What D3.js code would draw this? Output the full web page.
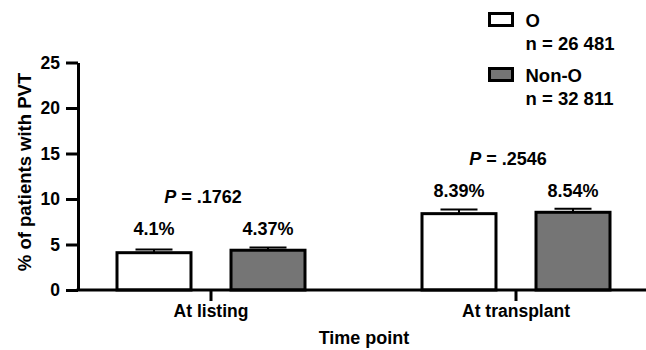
<!DOCTYPE html>
<html>
<head>
<meta charset="utf-8">
<script src="https://cdn.jsdelivr.net/npm/d3@7"></script>
<style>
  body { margin: 0; background: #fff; }
  text { font-family: "Liberation Sans", Arial, sans-serif; font-weight: bold; fill: #000; }
</style>
</head>
<body>
<div id="chart"></div>
<script>
// data
const timePoints = ['At listing', 'At transplant'];
const groups = ['O', 'Non-O'];
const groupN = ['n = 26 481', 'n = 32 811'];
const valuesO = [4.1, 8.39];
const valuesNonO = [4.37, 8.54];
const errorsO = [0.35, 0.45];
const errorsNonO = [0.3, 0.4];
const pValues = ['.1762', '.2546'];
const yTicks = [0, 5, 10, 15, 20, 25];

const colors = { 'O': '#ffffff', 'Non-O': '#757575' };

const width = 646, height = 350;

const svg = d3.select('#chart').append('svg')
    .attr('width', width)
    .attr('height', height);

// scales
const y = d3.scaleLinear().domain([0, 25]).range([290, 62.5]);

const x = d3.scaleBand()
    .domain(timePoints)
    .range([58.5, 668.5])
    .padding(0);

const xSub = d3.scaleBand()
    .domain(groups)
    .range([-94, 94])
    .paddingInner(0.351);

const axisX0 = 78;

const rows = [];
timePoints.forEach((t, i) => {
    rows.push({ time: t, group: 'O', value: valuesO[i], err: errorsO[i] });
    rows.push({ time: t, group: 'Non-O', value: valuesNonO[i], err: errorsNonO[i] });
});

const cx = d => x(d.time) + x.bandwidth() / 2;

// bars
svg.selectAll('.bar')
    .data(rows)
    .enter()
    .append('rect')
    .attr('class', 'bar')
    .attr('x', d => cx(d) + xSub(d.group))
    .attr('y', d => y(d.value))
    .attr('width', xSub.bandwidth())
    .attr('height', d => y(0) - y(d.value))
    .attr('fill', d => colors[d.group])
    .attr('stroke', '#000')
    .attr('stroke-width', 3);

// error bars
const errG = svg.selectAll('.err')
    .data(rows)
    .enter()
    .append('g')
    .attr('class', 'err')
    .attr('stroke', '#000')
    .attr('stroke-width', 2);

errG.append('line')
    .attr('x1', d => cx(d) + xSub(d.group) + xSub.bandwidth() / 2)
    .attr('x2', d => cx(d) + xSub(d.group) + xSub.bandwidth() / 2)
    .attr('y1', d => y(d.value))
    .attr('y2', d => y(d.value + d.err));

errG.append('line')
    .attr('x1', d => cx(d) + xSub(d.group) + xSub.bandwidth() / 4)
    .attr('x2', d => cx(d) + xSub(d.group) + xSub.bandwidth() * 3 / 4)
    .attr('y1', d => y(d.value + d.err))
    .attr('y2', d => y(d.value + d.err));

// value labels
svg.selectAll('.val')
    .data(rows)
    .enter()
    .append('text')
    .attr('class', 'val')
    .attr('x', d => cx(d) + xSub(d.group) + xSub.bandwidth() / 2)
    .attr('y', d => y(Math.max(valuesO[timePoints.indexOf(d.time)], valuesNonO[timePoints.indexOf(d.time)])) - 15)
    .attr('text-anchor', 'middle')
    .style('font-size', '18px')
    .text(d => d.value + '%');

// p values
const pText = svg.selectAll('.pval')
    .data(timePoints)
    .enter()
    .append('text')
    .attr('class', 'pval')
    .attr('x', d => x(d) + x.bandwidth() / 2 - 8)
    .attr('y', (d, i) => y(Math.max(valuesO[i], valuesNonO[i])) - 47)
    .attr('text-anchor', 'middle')
    .style('font-size', '18px');
pText.append('tspan').style('font-style', 'italic').text('P');
pText.append('tspan').text((d, i) => ' = ' + pValues[i]);

// y axis
const yAxis = svg.append('g')
    .attr('transform', `translate(${axisX0},0)`)
    .call(d3.axisLeft(y).tickValues(yTicks).tickSize(12).tickPadding(6).tickSizeOuter(0));
yAxis.select('.domain').attr('stroke-width', 3);
yAxis.selectAll('.tick line').attr('stroke-width', 3);
yAxis.selectAll('.tick text').style('font-size', '17.5px').attr('font-family', null).attr('fill', '#000');

// x axis
const xAxis = svg.append('g')
    .attr('transform', `translate(0,${y(0)})`)
    .call(d3.axisBottom(x).tickSize(11).tickPadding(4).tickSizeOuter(0));
xAxis.select('.domain').remove();
xAxis.append('line')
    .attr('x1', axisX0 - 1.5)
    .attr('x2', width)
    .attr('stroke', '#000')
    .attr('stroke-width', 3);
xAxis.selectAll('.tick line').attr('stroke-width', 3);
xAxis.selectAll('.tick text').style('font-size', '17.5px').attr('font-family', null).attr('fill', '#000');

// axis titles
svg.append('text')
    .attr('transform', 'translate(31,172) rotate(-90)')
    .attr('text-anchor', 'middle')
    .style('font-size', '18.5px')
    .text('% of patients with PVT');

svg.append('text')
    .attr('x', 364)
    .attr('y', 344)
    .attr('text-anchor', 'middle')
    .style('font-size', '18px')
    .text('Time point');

// legend
const legend = svg.append('g').attr('transform', 'translate(489.5,13.5)');
groups.forEach((g, i) => {
    const row = legend.append('g').attr('transform', `translate(0,${i * 55})`);
    row.append('rect')
        .attr('width', 23)
        .attr('height', 12)
        .attr('fill', colors[g])
        .attr('stroke', '#000')
        .attr('stroke-width', 3);
    row.append('text')
        .attr('x', 36)
        .attr('y', 13.5)
        .style('font-size', '18.5px')
        .text(g);
    row.append('text')
        .attr('x', 36)
        .attr('y', 36)
        .style('font-size', '18.5px')
        .text(groupN[i]);
});
</script>
</body>
</html>
